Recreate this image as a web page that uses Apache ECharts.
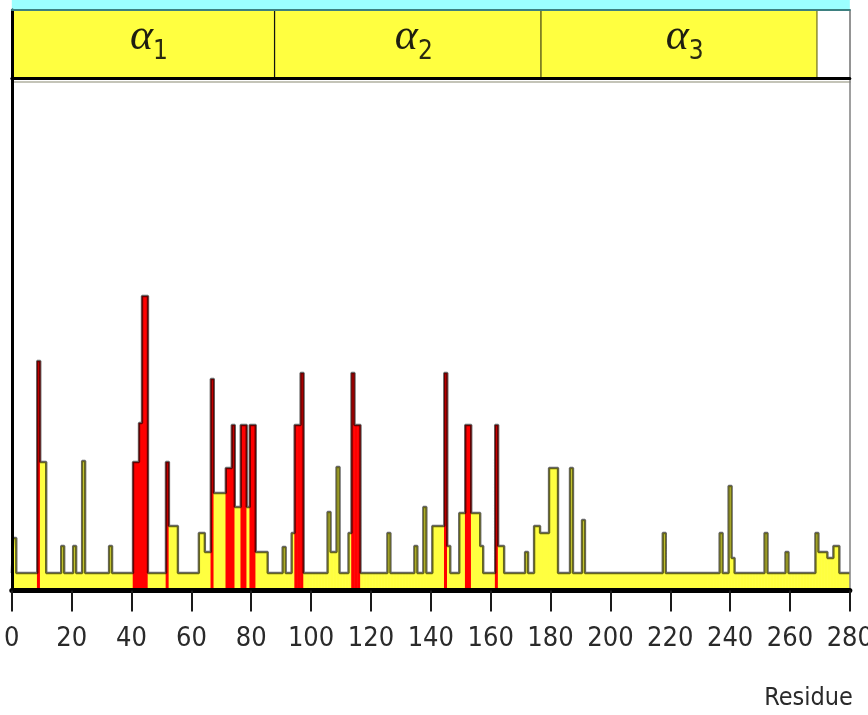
<!DOCTYPE html>
<html>
<head>
<meta charset="utf-8">
<script src="https://cdn.jsdelivr.net/npm/echarts@6/dist/echarts.min.js"></script>
<style>html,body{margin:0;padding:0;background:#fff}#chart{width:868px;height:715px}</style>
</head>
<body>
<div id="chart"></div>
<script>
// ---- DATA ----
// per-residue profile values, residues 0..280 (arbitrary units, no y scale shown)
const profile = [
  16,51,16,16,16,16,16,16,16,228,
  127,127,16,16,16,16,16,43,16,16,
  16,43,16,16,128,16,16,16,16,16,
  16,16,16,43,16,16,16,16,16,16,
  16,127,127,166,293,293,16,16,16,16,
  16,16,127,63,63,63,16,16,16,16,
  16,16,16,56,56,37,37,210,96,96,
  96,96,121,121,164,82,82,164,164,82,
  164,164,37,37,37,37,16,16,16,16,
  16,42,16,16,56,164,164,216,16,16,
  16,16,16,16,16,16,77,37,37,122,
  16,16,16,56,216,164,164,16,16,16,
  16,16,16,16,16,16,56,16,16,16,
  16,16,16,16,16,43,16,16,82,16,
  16,63,63,63,63,216,43,16,16,16,
  76,76,164,164,76,76,76,43,16,16,
  16,16,164,43,43,16,16,16,16,16,
  16,16,37,16,16,63,63,56,56,56,
  121,121,121,16,16,16,16,121,16,16,
  16,69,16,16,16,16,16,16,16,16,
  16,16,16,16,16,16,16,16,16,16,
  16,16,16,16,16,16,16,16,56,16,
  16,16,16,16,16,16,16,16,16,16,
  16,16,16,16,16,16,16,56,16,16,
  103,31,16,16,16,16,16,16,16,16,
  16,16,56,16,16,16,16,16,16,37,
  16,16,16,16,16,16,16,16,16,56,
  37,37,37,31,31,43,43,16,16,16,
  16
];
// residues drawn in red
const redResidues = [9, 41, 42, 43, 44, 45, 52, 67, 72, 73, 74, 77, 78, 80, 81,
  95, 96, 97, 114, 115, 116, 145, 152, 153, 162];
// domain track
const domainSymbols = ['α', 'α', 'α'];
const domainSubscripts = ['1', '2', '3'];
const domainStarts = [0, 88, 177];
const domainEnds = [88, 177, 269];
// x axis
const xMin = 0, xMax = 280, xStep = 20;
const xAxisName = 'Residue';

// ---- STYLE ----
const YELLOW = '#ffff40';
const RED = '#ff0000';
const NARROW = "'Liberation Sans Narrow', 'DejaVu Sans Condensed', 'Liberation Sans', sans-serif";
const dividerColor = ['#111111', '#4a4a14', '#8c8c30'];
const dividerWidth = [2.5, 2.5, 1.5];

const redSet = new Set(redResidues);
const barData = profile.map((v, i) => [i, v, redSet.has(i) ? 1 : 0]);
const lineData = profile.map((v, i) => [i, v]);
const domainData = domainStarts.map((s, k) => [s, domainEnds[k], k]);

function renderBar(params, api) {
  const i = api.value(0), v = api.value(1), red = api.value(2);
  const p0 = api.coord([i - 0.5, v]);
  const p1 = api.coord([i + 0.5, 0]);
  const cs = params.coordSys;
  const shape = echarts.graphic.clipRectByRect(
    {x: p0[0] - 0.3, y: p0[1], width: p1[0] - p0[0] + 0.6, height: p1[1] - p0[1]},
    {x: cs.x, y: cs.y, width: cs.width, height: cs.height});
  return shape && {type: 'rect', shape: shape, style: {fill: red ? RED : YELLOW}};
}

function renderDomain(params, api) {
  const s = api.value(0), e = api.value(1), k = api.value(2);
  const p0 = api.coord([s, 1]);
  const p1 = api.coord([e, 0]);
  const cx = (p0[0] + p1[0]) / 2;
  const cy = (p0[1] + p1[1]) / 2;
  return {
    type: 'group',
    children: [
      {type: 'rect', shape: {x: p0[0], y: p0[1], width: p1[0] - p0[0], height: p1[1] - p0[1]},
       style: {fill: YELLOW}},
      {type: 'line', shape: {x1: p1[0], y1: p0[1], x2: p1[0], y2: p1[1]},
       style: {stroke: dividerColor[k], lineWidth: dividerWidth[k]}},
      {type: 'text', x: cx - 2, y: cy - 7,
       style: {text: domainSymbols[k], fill: '#1e1e10', fontSize: 44, fontStyle: 'italic',
               fontFamily: "'Liberation Serif', 'DejaVu Serif', serif", align: 'center', verticalAlign: 'middle'}},
      {type: 'text', x: cx + 17, y: cy + 8,
       style: {text: domainSubscripts[k], fill: '#2a2a10', fontSize: 26,
               fontFamily: NARROW, align: 'center', verticalAlign: 'middle'}}
    ]
  };
}

function renderStrip(params, api) {
  const p0 = api.coord([api.value(0), 1]);
  const p1 = api.coord([api.value(1), 0]);
  return {type: 'rect', shape: {x: p0[0], y: p0[1], width: p1[0] - p0[0], height: p1[1] - p0[1]},
          style: {fill: '#9cffff'}};
}

const hiddenAxis = {axisLine: {show: false}, axisTick: {show: false}, axisLabel: {show: false}, splitLine: {show: false}};

const chart = echarts.init(document.getElementById('chart'), null, {renderer: 'canvas'});
chart.setOption({
  animation: false,
  backgroundColor: '#ffffff',
  grid: [
    {left: 11.8, right: 18.16, top: 78.5, bottom: 124.5, outerBoundsMode: 'none', containLabel: false},
    {left: 11.8, right: 18.16, top: 10, height: 68.5, outerBoundsMode: 'none', containLabel: false},
    {left: 11.8, right: 18.16, top: 0, height: 9.5, outerBoundsMode: 'none', containLabel: false}
  ],
  xAxis: [
    {gridIndex: 0, type: 'value', min: xMin, max: xMax, interval: xStep, z: 10,
     axisLine: {onZero: false, lineStyle: {color: '#000', width: 5}},
     axisTick: {length: 21, lineStyle: {color: '#1a1a1a', width: 2}},
     axisLabel: {margin: 35, fontSize: 27, fontFamily: NARROW, color: '#2a2a2a',
                 showMinLabel: true, showMaxLabel: true},
     splitLine: {show: false},
     name: xAxisName, nameLocation: 'end', nameGap: 3,
     nameTextStyle: {fontSize: 25, fontFamily: NARROW, color: '#2a2a2a', align: 'right',
                     verticalAlign: 'top', padding: [95, 0, 0, 0]}},
    Object.assign({gridIndex: 1, type: 'value', min: xMin, max: xMax, position: 'bottom', z: 10}, hiddenAxis,
      {axisLine: {show: true, onZero: false, lineStyle: {color: '#000', width: 3}}}),
    Object.assign({gridIndex: 1, type: 'value', min: xMin, max: xMax, position: 'top', z: 10}, hiddenAxis,
      {axisLine: {show: true, onZero: false, lineStyle: {color: '#3d8080', width: 2}}}),
    Object.assign({gridIndex: 2, type: 'value', min: xMin, max: xMax}, hiddenAxis),
    Object.assign({gridIndex: 0, type: 'value', min: xMin, max: xMax, position: 'top', offset: -3, z: 9}, hiddenAxis,
      {axisLine: {show: true, onZero: false, lineStyle: {color: '#c4c4b8', width: 2}}})
  ],
  yAxis: [
    Object.assign({gridIndex: 0, type: 'value', min: -1.5, max: 510.5, position: 'left', z: 10}, hiddenAxis,
      {axisLine: {show: true, onZero: false, lineStyle: {color: '#000', width: 3}}}),
    Object.assign({gridIndex: 0, type: 'value', min: -1.5, max: 510.5, position: 'right', z: 10}, hiddenAxis,
      {axisLine: {show: true, onZero: false, lineStyle: {color: '#808080', width: 1.5}}}),
    Object.assign({gridIndex: 1, type: 'value', min: 0, max: 1, position: 'left', z: 10}, hiddenAxis,
      {axisLine: {show: true, onZero: false, lineStyle: {color: '#000', width: 3}}}),
    Object.assign({gridIndex: 1, type: 'value', min: 0, max: 1, position: 'right', z: 10}, hiddenAxis,
      {axisLine: {show: true, onZero: false, lineStyle: {color: '#707070', width: 1.5}}}),
    Object.assign({gridIndex: 2, type: 'value', min: 0, max: 1}, hiddenAxis)
  ],
  series: [
    {type: 'custom', name: 'profile', xAxisIndex: 0, yAxisIndex: 0, renderItem: renderBar,
     data: barData, z: 2, silent: true},
    {type: 'line', name: 'outline', xAxisIndex: 0, yAxisIndex: 0, step: 'middle', data: lineData,
     symbol: 'none', z: 3, silent: true,
     lineStyle: {color: 'rgba(0,0,0,0.6)', width: 2.4}},
    {type: 'custom', name: 'domains', xAxisIndex: 1, yAxisIndex: 2, renderItem: renderDomain,
     data: domainData, z: 2, silent: true},
    {type: 'custom', name: 'track', xAxisIndex: 3, yAxisIndex: 4, renderItem: renderStrip,
     data: [[xMin, xMax]], z: 2, silent: true}
  ]
});
</script>
</body>
</html>
